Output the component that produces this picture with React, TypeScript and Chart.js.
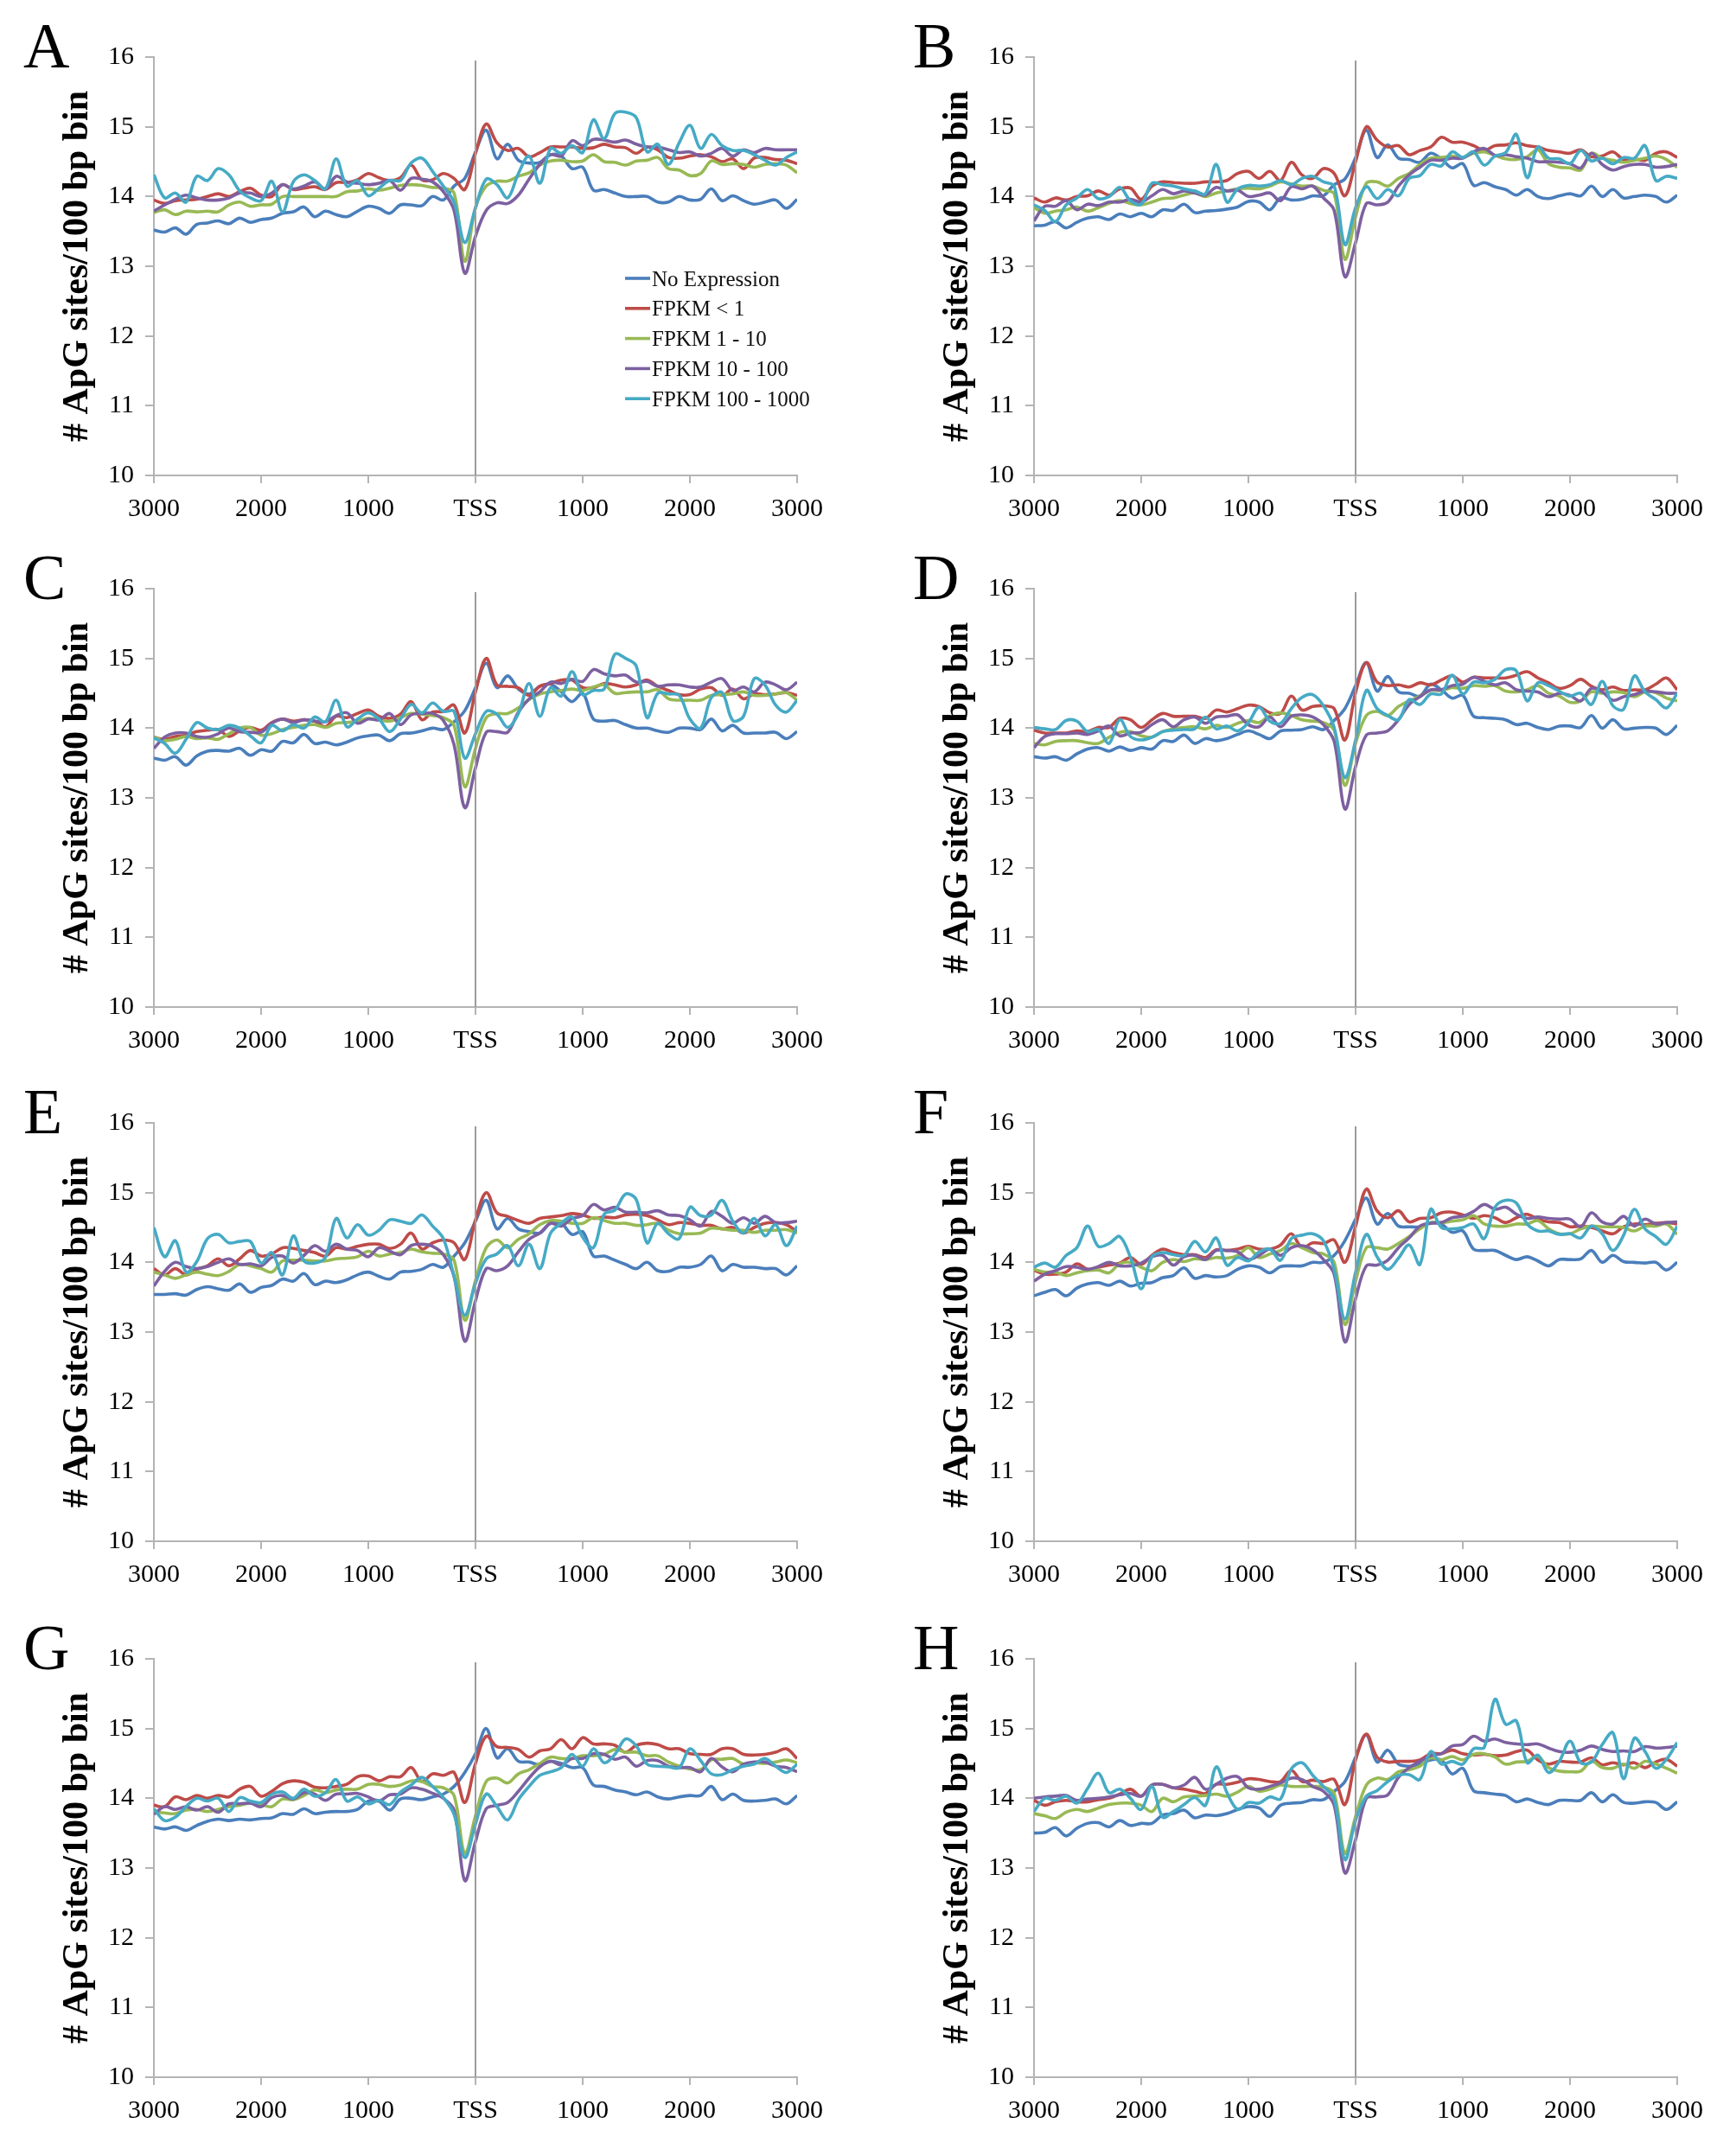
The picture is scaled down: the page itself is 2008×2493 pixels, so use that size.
import { useEffect, useRef } from 'react';
import Chart from 'chart.js/auto';

// bins of 100 bp from 3000 upstream to 3000 downstream of the TSS
const bins = Array.from({ length: 61 }, (_, i) => -3000 + i * 100);

const seriesNames = ['No Expression', 'FPKM < 1', 'FPKM 1 - 10', 'FPKM 10 - 100', 'FPKM 100 - 1000'];
const seriesColors = ['#4A7EBB', '#BE4B48', '#98B954', '#7D60A0', '#46AAC5'];

// Panel A
const aNone = [13.52, 13.49, 13.55, 13.46, 13.60, 13.62, 13.65, 13.61, 13.69, 13.63, 13.67, 13.69, 13.76, 13.78, 13.85, 13.71, 13.79, 13.74, 13.71, 13.79, 13.86, 13.83, 13.76, 13.88, 13.88, 13.87, 14.00, 13.95, 14.15, 14.26, 14.64, 14.95, 14.54, 14.75, 14.52, 14.48, 14.49, 14.60, 14.58, 14.40, 14.42, 14.09, 14.10, 14.05, 14.00, 14.00, 14.00, 13.92, 13.92, 14.00, 13.95, 13.96, 14.11, 13.94, 14.01, 13.94, 13.89, 13.92, 13.95, 13.83, 13.96];
const aLt1 = [13.95, 13.90, 13.94, 13.95, 13.96, 14.00, 14.04, 14.00, 14.07, 14.12, 14.02, 14.00, 14.17, 14.10, 14.12, 14.14, 14.10, 14.20, 14.20, 14.24, 14.33, 14.27, 14.23, 14.27, 14.45, 14.24, 14.24, 14.33, 14.26, 14.10, 14.62, 15.04, 14.77, 14.66, 14.69, 14.57, 14.63, 14.71, 14.71, 14.71, 14.69, 14.70, 14.75, 14.71, 14.70, 14.62, 14.71, 14.67, 14.56, 14.55, 14.58, 14.60, 14.57, 14.50, 14.54, 14.40, 14.55, 14.56, 14.53, 14.52, 14.47];
const a1to10 = [13.77, 13.81, 13.74, 13.79, 13.78, 13.79, 13.78, 13.88, 13.92, 13.86, 13.88, 13.89, 14.00, 14.00, 14.00, 14.00, 14.00, 14.00, 14.07, 14.08, 14.11, 14.09, 14.12, 14.16, 14.17, 14.16, 14.13, 14.12, 14.05, 13.07, 13.84, 14.15, 14.22, 14.22, 14.29, 14.34, 14.45, 14.51, 14.52, 14.50, 14.51, 14.60, 14.50, 14.49, 14.45, 14.51, 14.52, 14.56, 14.40, 14.38, 14.30, 14.33, 14.51, 14.46, 14.47, 14.46, 14.42, 14.46, 14.47, 14.45, 14.34];
const a10to100 = [13.79, 13.88, 13.96, 14.02, 13.98, 13.95, 13.95, 13.98, 14.05, 14.05, 14.00, 14.05, 14.17, 14.11, 14.15, 14.21, 14.11, 14.29, 14.21, 14.19, 14.17, 14.19, 14.23, 14.09, 14.26, 14.25, 14.21, 14.07, 13.80, 12.90, 13.43, 13.80, 13.91, 13.90, 14.02, 14.25, 14.46, 14.60, 14.58, 14.80, 14.73, 14.82, 14.81, 14.78, 14.81, 14.75, 14.71, 14.71, 14.67, 14.63, 14.64, 14.58, 14.62, 14.69, 14.58, 14.67, 14.63, 14.69, 14.67, 14.67, 14.67];
const a100to1000 = [14.31, 13.98, 14.05, 13.92, 14.29, 14.23, 14.40, 14.31, 14.08, 13.98, 13.94, 14.22, 13.78, 14.21, 14.31, 14.23, 14.11, 14.54, 14.15, 14.23, 14.01, 14.12, 14.23, 14.23, 14.48, 14.55, 14.36, 14.15, 13.92, 13.34, 13.84, 14.25, 14.17, 13.98, 14.33, 14.58, 14.19, 14.69, 14.62, 14.73, 14.63, 15.10, 14.83, 15.19, 15.21, 15.13, 14.64, 14.75, 14.46, 14.77, 15.02, 14.69, 14.89, 14.73, 14.66, 14.66, 14.60, 14.52, 14.45, 14.56, 14.64];

// Panel B
const bNone = [13.58, 13.59, 13.64, 13.55, 13.63, 13.69, 13.71, 13.67, 13.75, 13.71, 13.76, 13.71, 13.81, 13.80, 13.89, 13.77, 13.79, 13.80, 13.82, 13.85, 13.93, 13.92, 13.81, 13.98, 13.95, 13.96, 14.01, 14.01, 14.17, 14.25, 14.56, 14.95, 14.56, 14.74, 14.55, 14.53, 14.49, 14.62, 14.54, 14.41, 14.47, 14.16, 14.20, 14.14, 14.10, 14.02, 14.10, 14.00, 13.97, 14.01, 14.04, 14.01, 14.15, 14.00, 14.10, 13.98, 14.00, 14.02, 14.00, 13.92, 14.02];
const bLt1 = [13.98, 13.92, 13.98, 13.95, 14.00, 14.01, 14.08, 14.02, 14.11, 14.12, 13.96, 14.15, 14.21, 14.20, 14.19, 14.19, 14.21, 14.21, 14.23, 14.33, 14.36, 14.26, 14.36, 14.23, 14.49, 14.31, 14.26, 14.40, 14.33, 14.01, 14.50, 15.00, 14.81, 14.71, 14.73, 14.60, 14.66, 14.71, 14.85, 14.78, 14.78, 14.73, 14.66, 14.73, 14.74, 14.77, 14.73, 14.71, 14.66, 14.64, 14.62, 14.67, 14.57, 14.58, 14.64, 14.53, 14.54, 14.52, 14.62, 14.64, 14.56];
const b1to10 = [13.84, 13.76, 13.79, 13.81, 13.85, 13.79, 13.84, 13.90, 13.94, 13.90, 13.88, 13.92, 13.97, 13.98, 14.02, 14.05, 14.00, 14.05, 14.08, 14.11, 14.12, 14.11, 14.15, 14.21, 14.18, 14.15, 14.15, 14.09, 14.04, 13.10, 13.71, 14.19, 14.21, 14.15, 14.26, 14.33, 14.46, 14.55, 14.56, 14.58, 14.56, 14.62, 14.64, 14.59, 14.54, 14.53, 14.57, 14.67, 14.47, 14.42, 14.41, 14.38, 14.62, 14.55, 14.52, 14.49, 14.52, 14.55, 14.58, 14.53, 14.42];
const b10to100 = [13.65, 13.86, 13.86, 13.94, 13.81, 13.89, 13.87, 13.92, 13.92, 13.96, 13.92, 14.01, 14.10, 14.04, 14.08, 14.05, 14.02, 14.13, 14.08, 14.09, 14.00, 14.02, 14.05, 13.94, 14.14, 14.11, 14.15, 13.98, 13.80, 12.85, 13.34, 13.90, 13.88, 13.92, 14.15, 14.31, 14.42, 14.52, 14.52, 14.55, 14.55, 14.64, 14.69, 14.59, 14.60, 14.57, 14.55, 14.50, 14.50, 14.49, 14.47, 14.41, 14.62, 14.46, 14.38, 14.43, 14.46, 14.46, 14.42, 14.43, 14.46];
const b100to1000 = [13.88, 13.80, 13.64, 13.88, 13.98, 14.10, 13.97, 14.00, 14.13, 13.94, 13.89, 14.19, 14.17, 14.15, 14.11, 14.08, 14.04, 14.46, 13.92, 14.11, 14.16, 14.15, 14.17, 14.23, 14.17, 14.26, 14.29, 14.21, 14.15, 13.31, 13.84, 14.14, 13.97, 14.10, 14.01, 14.26, 14.30, 14.46, 14.44, 14.64, 14.56, 14.64, 14.45, 14.58, 14.63, 14.89, 14.27, 14.71, 14.55, 14.54, 14.47, 14.66, 14.51, 14.55, 14.47, 14.56, 14.55, 14.73, 14.23, 14.29, 14.26];

// Panel C
const cNone = [13.57, 13.54, 13.59, 13.47, 13.60, 13.67, 13.68, 13.67, 13.71, 13.61, 13.69, 13.67, 13.81, 13.79, 13.91, 13.78, 13.80, 13.76, 13.80, 13.86, 13.89, 13.90, 13.82, 13.92, 13.93, 13.96, 14.00, 13.98, 14.09, 14.25, 14.58, 14.93, 14.58, 14.75, 14.56, 14.49, 14.60, 14.63, 14.52, 14.38, 14.50, 14.13, 14.10, 14.11, 14.05, 14.00, 14.00, 13.96, 13.94, 14.00, 14.00, 13.98, 14.13, 13.96, 14.04, 13.93, 13.93, 13.93, 13.94, 13.85, 13.95];
const cLt1 = [13.87, 13.84, 13.88, 13.90, 13.95, 13.97, 13.98, 13.88, 13.96, 14.01, 13.97, 14.08, 14.13, 14.10, 14.12, 14.10, 14.02, 14.17, 14.15, 14.21, 14.26, 14.17, 14.14, 14.20, 14.38, 14.12, 14.23, 14.24, 14.33, 13.93, 14.52, 15.00, 14.62, 14.60, 14.58, 14.47, 14.60, 14.64, 14.69, 14.69, 14.58, 14.58, 14.64, 14.62, 14.59, 14.62, 14.69, 14.60, 14.54, 14.48, 14.48, 14.56, 14.58, 14.47, 14.56, 14.42, 14.49, 14.48, 14.49, 14.51, 14.47];
const c1to10 = [13.87, 13.82, 13.84, 13.88, 13.85, 13.86, 13.84, 13.92, 14.00, 14.01, 13.90, 13.92, 13.98, 14.01, 14.04, 14.05, 14.01, 14.07, 14.08, 14.10, 14.14, 14.12, 14.10, 14.15, 14.21, 14.20, 14.18, 14.15, 14.04, 13.16, 13.71, 14.15, 14.21, 14.21, 14.29, 14.41, 14.49, 14.52, 14.54, 14.56, 14.54, 14.59, 14.62, 14.50, 14.51, 14.52, 14.52, 14.55, 14.42, 14.40, 14.40, 14.40, 14.47, 14.48, 14.49, 14.52, 14.47, 14.47, 14.49, 14.51, 14.40];
const c10to100 = [13.71, 13.87, 13.93, 13.93, 13.88, 13.87, 13.92, 14.00, 13.95, 13.94, 13.94, 14.07, 14.13, 14.08, 14.12, 14.10, 14.09, 14.18, 14.22, 14.07, 14.13, 14.12, 14.21, 14.05, 14.19, 14.21, 14.21, 14.11, 13.76, 12.86, 13.43, 13.94, 13.95, 13.94, 14.23, 14.42, 14.52, 14.66, 14.64, 14.70, 14.67, 14.84, 14.78, 14.75, 14.76, 14.66, 14.67, 14.60, 14.62, 14.62, 14.59, 14.59, 14.66, 14.71, 14.54, 14.59, 14.52, 14.66, 14.62, 14.55, 14.66];
const c100to1000 = [13.86, 13.78, 13.64, 13.84, 14.08, 14.00, 13.98, 14.04, 14.00, 13.89, 13.79, 14.04, 13.96, 14.05, 14.00, 14.16, 14.09, 14.40, 14.02, 14.13, 14.22, 14.13, 13.95, 14.13, 14.34, 14.22, 14.36, 14.24, 14.24, 13.57, 13.92, 14.24, 14.20, 14.01, 14.21, 14.64, 14.17, 14.58, 14.46, 14.81, 14.48, 14.54, 14.56, 15.06, 15.00, 14.89, 14.15, 14.50, 14.49, 14.47, 14.13, 14.00, 14.44, 14.51, 14.11, 14.17, 14.71, 14.62, 14.33, 14.23, 14.40];

// Panel D
const dNone = [13.59, 13.57, 13.59, 13.54, 13.63, 13.70, 13.72, 13.67, 13.73, 13.68, 13.72, 13.70, 13.82, 13.81, 13.90, 13.78, 13.85, 13.82, 13.85, 13.91, 13.96, 13.91, 13.85, 13.96, 13.97, 13.98, 14.02, 13.98, 14.11, 14.28, 14.61, 14.94, 14.53, 14.74, 14.52, 14.50, 14.46, 14.63, 14.55, 14.43, 14.47, 14.17, 14.15, 14.14, 14.12, 14.05, 14.07, 14.01, 13.98, 14.03, 14.03, 14.01, 14.18, 14.00, 14.12, 13.99, 14.00, 14.01, 14.00, 13.91, 14.04];
const dLt1 = [13.97, 13.93, 13.93, 13.93, 13.96, 13.95, 14.01, 14.01, 14.14, 14.12, 14.01, 14.12, 14.21, 14.17, 14.17, 14.17, 14.14, 14.26, 14.23, 14.28, 14.33, 14.31, 14.22, 14.21, 14.46, 14.26, 14.31, 14.32, 14.28, 13.83, 14.51, 14.94, 14.66, 14.61, 14.62, 14.59, 14.65, 14.62, 14.69, 14.75, 14.66, 14.73, 14.72, 14.72, 14.72, 14.76, 14.81, 14.72, 14.65, 14.57, 14.61, 14.70, 14.60, 14.55, 14.59, 14.54, 14.55, 14.55, 14.63, 14.72, 14.55];
const d1to10 = [13.78, 13.76, 13.81, 13.82, 13.82, 13.79, 13.78, 13.87, 13.94, 13.95, 13.89, 13.87, 13.95, 13.99, 14.01, 14.02, 13.99, 14.04, 14.01, 14.07, 14.11, 14.08, 14.18, 14.22, 14.18, 14.12, 14.10, 14.08, 13.97, 13.18, 13.78, 14.18, 14.24, 14.18, 14.31, 14.39, 14.46, 14.54, 14.54, 14.58, 14.57, 14.61, 14.60, 14.61, 14.53, 14.52, 14.55, 14.61, 14.50, 14.46, 14.37, 14.39, 14.52, 14.50, 14.52, 14.51, 14.45, 14.52, 14.51, 14.43, 14.39];
const d10to100 = [13.72, 13.88, 13.92, 13.92, 13.93, 13.91, 13.96, 14.03, 13.89, 13.93, 13.94, 14.05, 14.12, 14.02, 14.12, 14.16, 14.07, 14.16, 14.17, 14.19, 14.05, 14.02, 14.16, 14.02, 14.17, 14.19, 14.16, 14.05, 13.81, 12.84, 13.45, 13.90, 13.93, 13.96, 14.12, 14.34, 14.45, 14.55, 14.55, 14.61, 14.63, 14.73, 14.67, 14.62, 14.65, 14.55, 14.53, 14.52, 14.45, 14.50, 14.47, 14.39, 14.57, 14.52, 14.40, 14.45, 14.48, 14.53, 14.52, 14.50, 14.50];
const d100to1000 = [14.01, 13.99, 13.98, 14.11, 14.10, 13.95, 13.98, 13.78, 14.12, 13.88, 13.83, 13.87, 13.95, 13.97, 13.98, 13.99, 14.16, 13.99, 14.03, 13.96, 14.08, 14.30, 14.10, 14.07, 14.28, 14.44, 14.48, 14.32, 14.01, 13.29, 13.83, 14.54, 14.28, 14.18, 14.12, 14.41, 14.34, 14.49, 14.49, 14.76, 14.49, 14.66, 14.65, 14.70, 14.84, 14.82, 14.39, 14.65, 14.61, 14.53, 14.46, 14.50, 14.34, 14.67, 14.32, 14.27, 14.75, 14.52, 14.41, 14.29, 14.50];

// Panel E
const eNone = [13.54, 13.54, 13.55, 13.53, 13.61, 13.65, 13.62, 13.60, 13.69, 13.57, 13.64, 13.67, 13.76, 13.73, 13.84, 13.68, 13.73, 13.71, 13.75, 13.82, 13.86, 13.80, 13.76, 13.86, 13.87, 13.90, 13.97, 13.93, 14.09, 14.28, 14.59, 14.89, 14.48, 14.63, 14.48, 14.44, 14.42, 14.56, 14.56, 14.40, 14.44, 14.09, 14.09, 14.03, 13.97, 13.91, 14.00, 13.88, 13.87, 13.93, 13.93, 13.97, 14.09, 13.88, 13.97, 13.93, 13.93, 13.91, 13.91, 13.82, 13.95];
const eLt1 = [13.91, 13.82, 13.91, 13.82, 13.90, 13.95, 14.05, 13.95, 14.05, 14.17, 14.09, 14.12, 14.21, 14.20, 14.17, 14.14, 14.09, 14.21, 14.19, 14.23, 14.26, 14.26, 14.20, 14.26, 14.42, 14.19, 14.28, 14.32, 14.28, 14.04, 14.61, 15.00, 14.71, 14.66, 14.60, 14.56, 14.63, 14.65, 14.67, 14.70, 14.68, 14.63, 14.65, 14.64, 14.68, 14.69, 14.67, 14.61, 14.54, 14.57, 14.56, 14.53, 14.53, 14.48, 14.50, 14.42, 14.50, 14.56, 14.57, 14.54, 14.44];
const e1to10 = [13.86, 13.82, 13.77, 13.82, 13.86, 13.83, 13.81, 13.87, 13.97, 13.95, 13.91, 13.86, 14.02, 14.03, 14.03, 14.02, 14.02, 14.05, 14.06, 14.08, 14.16, 14.09, 14.12, 14.14, 14.19, 14.15, 14.13, 14.12, 14.03, 13.17, 13.74, 14.21, 14.32, 14.21, 14.33, 14.41, 14.54, 14.60, 14.59, 14.56, 14.56, 14.64, 14.60, 14.56, 14.56, 14.53, 14.54, 14.56, 14.46, 14.41, 14.41, 14.42, 14.49, 14.48, 14.46, 14.46, 14.43, 14.46, 14.46, 14.47, 14.42];
const e10to100 = [13.66, 13.87, 14.00, 13.94, 13.91, 13.94, 14.00, 14.05, 13.97, 13.98, 13.95, 14.07, 14.09, 13.99, 14.10, 14.24, 14.16, 14.26, 14.19, 14.17, 14.08, 14.21, 14.16, 14.11, 14.24, 14.26, 14.23, 14.11, 13.80, 12.87, 13.45, 13.91, 13.88, 13.95, 14.15, 14.33, 14.42, 14.56, 14.52, 14.63, 14.67, 14.83, 14.75, 14.79, 14.72, 14.72, 14.71, 14.74, 14.68, 14.67, 14.61, 14.52, 14.73, 14.66, 14.56, 14.64, 14.56, 14.66, 14.57, 14.57, 14.59];
const e100to1000 = [14.50, 14.08, 14.31, 13.86, 14.01, 14.34, 14.40, 14.28, 14.30, 14.30, 13.99, 14.14, 13.82, 14.38, 14.02, 13.99, 14.07, 14.63, 14.35, 14.54, 14.39, 14.46, 14.61, 14.59, 14.56, 14.68, 14.52, 14.34, 13.80, 13.24, 13.70, 14.05, 14.12, 14.24, 13.95, 14.26, 13.91, 14.42, 14.56, 14.65, 14.36, 14.21, 14.69, 14.75, 14.98, 14.90, 14.28, 14.56, 14.41, 14.34, 14.79, 14.67, 14.68, 14.89, 14.59, 14.42, 14.63, 14.38, 14.54, 14.24, 14.52];

// Panel F
const fNone = [13.52, 13.57, 13.61, 13.52, 13.63, 13.69, 13.71, 13.67, 13.73, 13.66, 13.70, 13.71, 13.78, 13.81, 13.92, 13.77, 13.81, 13.79, 13.81, 13.90, 13.95, 13.93, 13.85, 13.94, 13.95, 13.95, 14.00, 14.00, 14.10, 14.31, 14.62, 14.92, 14.55, 14.70, 14.52, 14.51, 14.51, 14.57, 14.55, 14.43, 14.45, 14.19, 14.17, 14.17, 14.10, 14.04, 14.08, 14.02, 13.95, 14.04, 14.04, 14.05, 14.17, 14.00, 14.10, 14.01, 14.00, 13.99, 14.00, 13.89, 14.00];
const fLt1 = [13.89, 13.83, 13.83, 13.86, 13.98, 13.90, 13.93, 13.96, 13.99, 14.07, 13.97, 14.10, 14.19, 14.14, 14.11, 14.11, 14.07, 14.18, 14.17, 14.19, 14.23, 14.19, 14.19, 14.25, 14.41, 14.21, 14.28, 14.27, 14.32, 14.00, 14.52, 15.05, 14.74, 14.64, 14.74, 14.58, 14.63, 14.64, 14.71, 14.72, 14.68, 14.63, 14.67, 14.64, 14.57, 14.64, 14.69, 14.62, 14.58, 14.57, 14.51, 14.52, 14.50, 14.45, 14.41, 14.51, 14.55, 14.54, 14.56, 14.57, 14.55];
const f1to10 = [13.90, 13.86, 13.86, 13.81, 13.85, 13.88, 13.89, 13.85, 13.98, 14.00, 13.93, 13.88, 14.00, 14.04, 14.01, 14.05, 14.04, 14.07, 14.06, 14.10, 14.21, 14.07, 14.12, 14.17, 14.27, 14.21, 14.14, 14.12, 14.00, 13.11, 13.73, 14.21, 14.21, 14.19, 14.27, 14.37, 14.48, 14.57, 14.57, 14.59, 14.61, 14.67, 14.55, 14.52, 14.52, 14.55, 14.55, 14.60, 14.48, 14.41, 14.41, 14.48, 14.52, 14.51, 14.51, 14.50, 14.45, 14.52, 14.52, 14.55, 14.40];
const f10to100 = [13.73, 13.83, 13.88, 13.94, 13.93, 13.90, 13.94, 14.00, 13.95, 13.95, 13.99, 14.08, 14.10, 13.96, 14.08, 14.10, 14.04, 14.17, 14.17, 14.15, 14.04, 14.10, 14.19, 14.10, 14.21, 14.24, 14.18, 14.04, 13.83, 12.86, 13.48, 13.95, 13.96, 14.03, 14.21, 14.35, 14.52, 14.56, 14.57, 14.64, 14.66, 14.73, 14.83, 14.76, 14.79, 14.69, 14.63, 14.65, 14.63, 14.62, 14.62, 14.51, 14.71, 14.58, 14.55, 14.66, 14.52, 14.62, 14.55, 14.57, 14.58];
const f100to1000 = [13.93, 13.99, 13.93, 14.10, 14.21, 14.52, 14.23, 14.27, 14.37, 14.07, 13.62, 14.08, 14.14, 14.11, 14.10, 14.30, 14.15, 14.35, 13.96, 14.07, 14.02, 14.15, 14.19, 14.03, 14.34, 14.39, 14.41, 14.31, 13.90, 13.19, 13.86, 14.40, 14.08, 13.90, 14.06, 14.25, 13.97, 14.76, 14.50, 14.48, 14.50, 14.55, 14.34, 14.79, 14.89, 14.85, 14.55, 14.45, 14.45, 14.40, 14.41, 14.35, 14.52, 14.41, 14.17, 14.39, 14.76, 14.48, 14.37, 14.26, 14.52];

// Panel G
const gNone = [13.59, 13.56, 13.59, 13.54, 13.61, 13.67, 13.70, 13.68, 13.70, 13.69, 13.71, 13.72, 13.78, 13.77, 13.85, 13.78, 13.80, 13.81, 13.81, 13.84, 13.96, 13.96, 13.83, 13.99, 14.00, 13.98, 14.02, 14.06, 14.17, 14.37, 14.64, 15.00, 14.58, 14.71, 14.53, 14.52, 14.48, 14.53, 14.50, 14.44, 14.44, 14.19, 14.17, 14.12, 14.09, 14.05, 14.09, 14.02, 13.99, 14.02, 14.04, 14.04, 14.17, 13.98, 14.06, 13.97, 13.96, 13.97, 13.99, 13.92, 14.04];
const gLt1 = [13.90, 13.88, 14.02, 13.98, 14.04, 14.00, 14.04, 14.02, 14.13, 14.17, 14.03, 14.10, 14.21, 14.25, 14.23, 14.16, 14.15, 14.17, 14.20, 14.31, 14.32, 14.25, 14.31, 14.31, 14.44, 14.24, 14.35, 14.33, 14.37, 13.94, 14.50, 14.89, 14.74, 14.73, 14.70, 14.59, 14.68, 14.71, 14.84, 14.71, 14.87, 14.78, 14.78, 14.76, 14.66, 14.76, 14.79, 14.77, 14.71, 14.71, 14.64, 14.63, 14.63, 14.71, 14.71, 14.63, 14.62, 14.63, 14.66, 14.71, 14.57];
const g1to10 = [13.81, 13.79, 13.78, 13.83, 13.84, 13.81, 13.84, 13.88, 13.90, 13.93, 13.91, 13.88, 13.99, 13.98, 14.04, 14.12, 14.08, 14.12, 14.13, 14.13, 14.20, 14.20, 14.17, 14.19, 14.25, 14.24, 14.17, 14.15, 14.04, 13.21, 13.75, 14.24, 14.29, 14.22, 14.35, 14.41, 14.50, 14.59, 14.57, 14.57, 14.61, 14.61, 14.63, 14.70, 14.66, 14.66, 14.61, 14.61, 14.52, 14.46, 14.42, 14.41, 14.55, 14.56, 14.57, 14.49, 14.51, 14.50, 14.52, 14.55, 14.51];
const g10to100 = [13.77, 13.88, 13.84, 13.88, 13.83, 13.88, 13.80, 13.92, 13.92, 13.93, 13.88, 14.01, 14.04, 13.99, 14.08, 14.06, 13.97, 14.06, 14.06, 14.07, 14.02, 13.96, 14.05, 14.06, 14.15, 14.13, 14.07, 14.00, 13.83, 12.82, 13.38, 13.85, 13.90, 13.94, 14.10, 14.29, 14.45, 14.53, 14.48, 14.57, 14.57, 14.64, 14.63, 14.56, 14.59, 14.46, 14.54, 14.54, 14.46, 14.44, 14.44, 14.38, 14.57, 14.45, 14.38, 14.49, 14.52, 14.52, 14.46, 14.44, 14.38];
const g100to1000 = [13.85, 13.68, 13.73, 13.88, 14.00, 13.96, 14.00, 13.81, 14.01, 13.96, 13.94, 14.06, 14.09, 14.00, 14.13, 14.03, 14.08, 14.27, 13.96, 14.02, 13.92, 13.97, 13.91, 14.09, 14.19, 14.30, 14.17, 14.01, 13.77, 13.15, 13.63, 14.06, 13.88, 13.69, 13.98, 14.17, 14.33, 14.38, 14.44, 14.63, 14.46, 14.71, 14.51, 14.63, 14.85, 14.75, 14.49, 14.46, 14.45, 14.44, 14.71, 14.54, 14.35, 14.34, 14.41, 14.46, 14.49, 14.57, 14.46, 14.37, 14.49];

// Panel H
const hNone = [13.50, 13.51, 13.58, 13.46, 13.57, 13.64, 13.65, 13.59, 13.68, 13.61, 13.64, 13.64, 13.76, 13.78, 13.83, 13.72, 13.76, 13.75, 13.78, 13.84, 13.88, 13.86, 13.74, 13.90, 13.93, 13.94, 13.98, 13.98, 14.10, 14.24, 14.59, 14.91, 14.52, 14.69, 14.49, 14.46, 14.49, 14.55, 14.55, 14.35, 14.43, 14.11, 14.08, 14.06, 14.04, 13.95, 13.99, 13.94, 13.91, 13.97, 13.97, 13.97, 14.08, 13.95, 14.05, 13.94, 13.93, 13.95, 13.94, 13.84, 13.95];
const hLt1 = [13.97, 13.90, 13.95, 13.97, 13.95, 13.95, 13.98, 14.00, 14.06, 14.13, 14.03, 14.19, 14.20, 14.15, 14.13, 14.10, 14.07, 14.20, 14.20, 14.23, 14.28, 14.27, 14.24, 14.24, 14.40, 14.24, 14.26, 14.24, 14.27, 13.91, 14.55, 14.92, 14.59, 14.52, 14.53, 14.53, 14.55, 14.64, 14.64, 14.69, 14.64, 14.62, 14.63, 14.61, 14.62, 14.67, 14.69, 14.55, 14.49, 14.53, 14.52, 14.52, 14.58, 14.48, 14.51, 14.48, 14.51, 14.44, 14.52, 14.56, 14.46];
const h1to10 = [13.78, 13.75, 13.71, 13.80, 13.84, 13.81, 13.86, 13.91, 13.93, 13.93, 13.90, 13.81, 14.00, 13.95, 14.02, 14.03, 14.04, 14.06, 14.03, 14.09, 14.17, 14.10, 14.13, 14.19, 14.17, 14.17, 14.17, 14.16, 14.07, 13.21, 13.74, 14.19, 14.29, 14.27, 14.38, 14.41, 14.46, 14.58, 14.55, 14.60, 14.55, 14.63, 14.64, 14.59, 14.49, 14.52, 14.53, 14.60, 14.44, 14.39, 14.38, 14.39, 14.53, 14.44, 14.43, 14.49, 14.43, 14.53, 14.49, 14.43, 14.36];
const h10to100 = [14.00, 14.02, 14.03, 14.04, 13.97, 13.99, 14.00, 14.02, 14.05, 14.07, 14.03, 14.19, 14.20, 14.15, 14.19, 14.30, 14.13, 14.20, 14.29, 14.31, 14.15, 14.13, 14.17, 14.22, 14.29, 14.27, 14.17, 14.10, 13.90, 12.93, 13.41, 14.00, 14.02, 14.05, 14.30, 14.44, 14.53, 14.61, 14.64, 14.75, 14.77, 14.89, 14.82, 14.85, 14.80, 14.78, 14.77, 14.78, 14.72, 14.67, 14.66, 14.69, 14.75, 14.70, 14.67, 14.68, 14.67, 14.74, 14.72, 14.73, 14.75];
const h100to1000 = [13.81, 14.00, 13.97, 14.03, 13.93, 14.14, 14.36, 14.08, 14.13, 14.00, 13.84, 14.17, 13.73, 13.81, 13.91, 14.01, 13.90, 14.45, 14.08, 13.84, 13.94, 13.93, 14.02, 13.99, 14.42, 14.51, 14.33, 14.17, 13.99, 13.12, 13.68, 14.03, 14.11, 14.24, 14.33, 14.34, 14.27, 14.67, 14.49, 14.53, 14.49, 14.71, 14.73, 15.42, 15.06, 15.11, 14.51, 14.62, 14.37, 14.53, 14.82, 14.51, 14.52, 14.77, 14.94, 14.28, 14.86, 14.67, 14.43, 14.56, 14.80];

const panels = [
  { letter: 'A', series: [aNone, aLt1, a1to10, a10to100, a100to1000], legend: true },
  { letter: 'B', series: [bNone, bLt1, b1to10, b10to100, b100to1000], legend: false },
  { letter: 'C', series: [cNone, cLt1, c1to10, c10to100, c100to1000], legend: false },
  { letter: 'D', series: [dNone, dLt1, d1to10, d10to100, d100to1000], legend: false },
  { letter: 'E', series: [eNone, eLt1, e1to10, e10to100, e100to1000], legend: false },
  { letter: 'F', series: [fNone, fLt1, f1to10, f10to100, f100to1000], legend: false },
  { letter: 'G', series: [gNone, gLt1, g1to10, g10to100, g100to1000], legend: false },
  { letter: 'H', series: [hNone, hLt1, h1to10, h10to100, h100to1000], legend: false },
];

const SERIF = "'Liberation Serif', 'Times New Roman', serif";
const AXIS = '#b4b4b4';
const TSS_LINE = '#9c9c9c';
const PANEL_W = 990;
const PANEL_H = 615;
const colLeft = [0, 1018];
const rowTop = [0, 615, 1233, 1853];
const letterX = [27, 38];

// TSS marker, panel letter and the in-plot legend of panel A
const panelDecor = {
  id: 'panelDecor',
  afterDatasetsDraw(chart: any) {
    const { ctx, chartArea, scales } = chart;
    const x = scales.x.getPixelForValue(0);
    ctx.save();
    ctx.strokeStyle = TSS_LINE;
    ctx.lineWidth = 2;
    ctx.beginPath();
    ctx.moveTo(x, chartArea.top + 4);
    ctx.lineTo(x, chartArea.bottom);
    ctx.stroke();
    ctx.restore();
  },
  afterDraw(chart: any, _args: any, opts: any) {
    const { ctx } = chart;
    ctx.save();
    ctx.fillStyle = '#000';
    ctx.textBaseline = 'alphabetic';
    ctx.textAlign = 'left';
    ctx.font = `74px ${SERIF}`;
    ctx.fillText(opts.letter, opts.letterX, 78);
    if (opts.legend) {
      ctx.font = `25px ${SERIF}`;
      chart.data.datasets.forEach((ds: any, i: number) => {
        const y = 322 + i * 34.8;
        ctx.strokeStyle = ds.borderColor;
        ctx.lineWidth = 3.6;
        ctx.beginPath();
        ctx.moveTo(723, y);
        ctx.lineTo(752, y);
        ctx.stroke();
        ctx.fillStyle = '#111';
        ctx.fillText(ds.label, 754, y + 8.5);
      });
    }
    ctx.restore();
  },
};

function Panel({ index }: { index: number }) {
  const canvasRef = useRef<HTMLCanvasElement | null>(null);
  const panel = panels[index];
  const col = index % 2;
  const row = Math.floor(index / 2);

  useEffect(() => {
    if (!canvasRef.current) return;
    const tickFont = { family: SERIF, size: 30 };
    const chart = new Chart(canvasRef.current, {
      type: 'line',
      data: {
        labels: bins,
        datasets: panel.series.map((values, i) => ({
          label: seriesNames[i],
          data: values,
          borderColor: seriesColors[i],
          backgroundColor: seriesColors[i],
          borderWidth: 3.6,
          pointRadius: 0,
          tension: 0.35,
          fill: false,
          order: 4 - i,
        })),
      },
      options: {
        animation: false,
        responsive: true,
        maintainAspectRatio: false,
        events: [],
        layout: { padding: { top: 66, right: 68, bottom: 0, left: 0 } },
        plugins: {
          legend: { display: false },
          tooltip: { enabled: false },
          panelDecor: { letter: panel.letter, letterX: letterX[col], legend: panel.legend },
        } as any,
        scales: {
          x: {
            type: 'linear',
            min: -3000,
            max: 3000,
            afterFit: (s: any) => { s.height = 65; },
            border: { color: AXIS, width: 2 },
            grid: { drawOnChartArea: false, color: AXIS, lineWidth: 2, tickLength: 9 },
            ticks: {
              stepSize: 1000,
              maxRotation: 0,
              padding: 12,
              color: '#000',
              font: tickFont,
              callback: (v: any) => (Number(v) === 0 ? 'TSS' : String(Math.abs(Number(v)))),
            },
          },
          y: {
            min: 10,
            max: 16,
            afterFit: (s: any) => { s.width = 178; },
            border: { color: AXIS, width: 2 },
            grid: { drawOnChartArea: false, color: AXIS, lineWidth: 2, tickLength: 10 },
            ticks: { stepSize: 1, padding: 13, color: '#000', font: tickFont },
            title: {
              display: true,
              text: '# ApG sites/100 bp bin',
              color: '#000',
              font: { family: SERIF, size: 42, weight: 'bold' },
              padding: { top: 65, bottom: 0 },
            },
          },
        },
      },
      plugins: [panelDecor],
    });
    return () => chart.destroy();
  }, [index]);

  return (
    <div style={{ position: 'absolute', left: colLeft[col], top: rowTop[row], width: PANEL_W, height: PANEL_H }}>
      <canvas ref={canvasRef} aria-label={`Panel ${panel.letter}`} />
    </div>
  );
}

export default function App() {
  return (
    <div style={{ position: 'relative', width: 2008, height: 2493, background: '#fff' }}>
      <style>{'body{margin:0;background:#fff;}'}</style>
      {panels.map((p, i) => (
        <Panel key={p.letter} index={i} />
      ))}
    </div>
  );
}
